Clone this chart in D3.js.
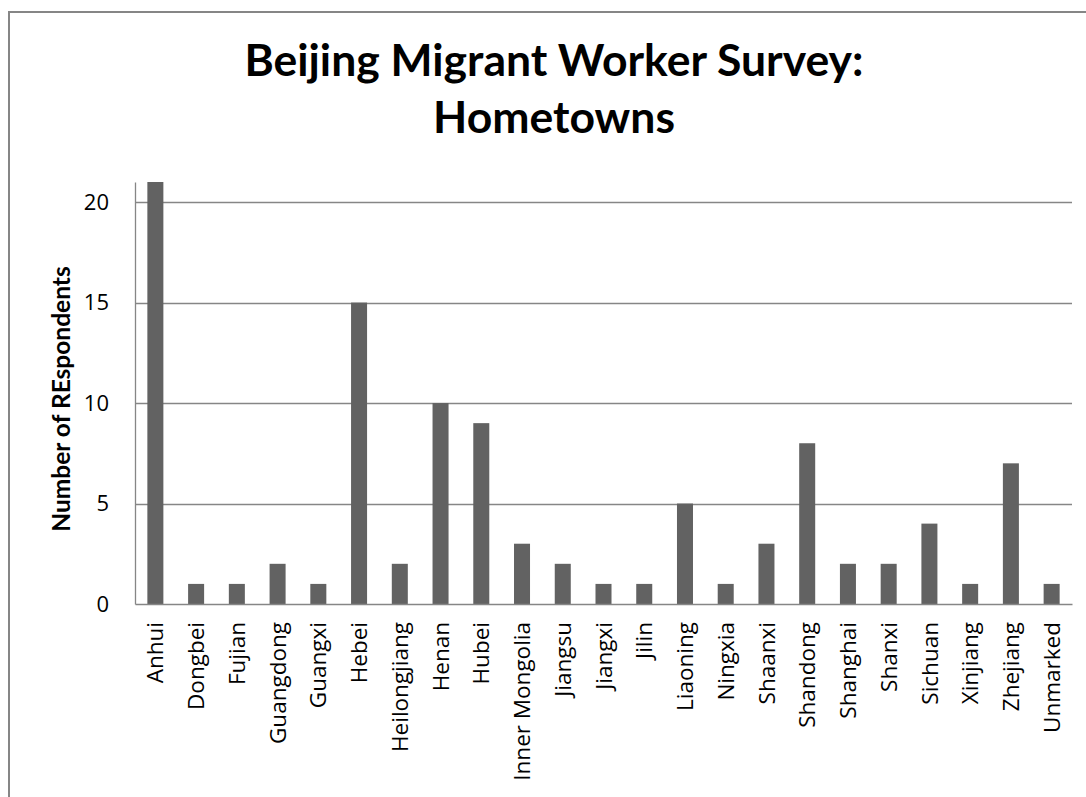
<!DOCTYPE html>
<html>
<head>
<meta charset="utf-8">
<script src="https://cdn.jsdelivr.net/npm/d3@7/dist/d3.min.js"></script>
<style>
  html, body { margin: 0; padding: 0; background: #fff; }
  svg { display: block; }
</style>
</head>
<body>
<svg id="chart" width="1086" height="797"></svg>
<script>
// Hometown provinces of the surveyed workers
const provinces = ["Anhui", "Dongbei", "Fujian", "Guangdong", "Guangxi", "Hebei",
  "Heilongjiang", "Henan", "Hubei", "Inner Mongolia", "Jiangsu", "Jiangxi", "Jilin",
  "Liaoning", "Ningxia", "Shaanxi", "Shandong", "Shanghai", "Shanxi", "Sichuan",
  "Xinjiang", "Zhejiang", "Unmarked"];
// Respondents per province
const respondents = [21, 1, 1, 2, 1, 15, 2, 10, 9, 3, 2, 1, 1, 5, 1, 3, 8, 2, 2, 4, 1, 7, 1];
const yTicks = [0, 5, 10, 15, 20];
const titleLines = ["Beijing Migrant Worker Survey:", "Hometowns"];
const yTitle = "Number of REspondents";

const svg = d3.select("#chart");
const W = 1086, H = 797;
const plot = { left: 135, right: 1072, top: 182, bottom: 604 };
const axisGrey = "#868686";
const barFill = "#626262";
const labelFont = "'Open Sans', 'DejaVu Sans', sans-serif";
const titleFont = "Lato, 'Open Sans', sans-serif";

svg.append("rect").attr("width", W).attr("height", H).attr("fill", "#fff");

// outer chart frame
svg.append("rect")
  .attr("x", 9).attr("y", 12).attr("width", W + 20).attr("height", H + 20)
  .attr("fill", "none").attr("stroke", axisGrey).attr("stroke-width", 2);

const x = d3.scaleBand()
  .domain(provinces)
  .range([plot.left, plot.right])
  .paddingInner(0.607)
  .paddingOuter(0.3035);

const y = d3.scaleLinear().domain([0, 21]).range([plot.bottom, plot.top]);

// horizontal gridlines
svg.append("g")
  .selectAll("line")
  .data(yTicks.filter(d => d > 0))
  .join("line")
  .attr("x1", plot.left).attr("x2", plot.right)
  .attr("y1", d => Math.round(y(d)) + 0.5).attr("y2", d => Math.round(y(d)) + 0.5)
  .attr("stroke", axisGrey).attr("stroke-width", 1.3);

// bars
svg.append("g")
  .selectAll("rect")
  .data(provinces)
  .join("rect")
  .attr("x", d => x(d))
  .attr("width", x.bandwidth())
  .attr("y", (d, i) => y(respondents[i]))
  .attr("height", (d, i) => y(0) - y(respondents[i]))
  .attr("fill", barFill);

// y axis
const yAxis = svg.append("g")
  .attr("transform", `translate(${plot.left},0)`)
  .call(d3.axisLeft(y).tickValues(yTicks).tickSize(0).tickPadding(26));
yAxis.select(".domain").attr("stroke", axisGrey).attr("stroke-width", 1.3);
yAxis.selectAll("text")
  .attr("font-family", labelFont).attr("font-size", 22).attr("fill", "#000");

// x axis
const xAxis = svg.append("g")
  .attr("transform", `translate(0,${plot.bottom})`)
  .call(d3.axisBottom(x).tickSize(0).tickSizeOuter(0));
xAxis.select(".domain").attr("stroke", axisGrey).attr("stroke-width", 1.6);
xAxis.selectAll("text")
  .attr("font-family", labelFont).attr("font-size", 22.5).attr("fill", "#000")
  .attr("text-anchor", "end")
  .attr("transform", "translate(0,18) rotate(-90)")
  .attr("x", 0).attr("y", 0).attr("dy", "0.36em");

// y axis title
svg.append("text")
  .attr("transform", "translate(70,399) rotate(-90)")
  .attr("text-anchor", "middle")
  .attr("font-family", titleFont).attr("font-weight", 700).attr("font-size", 24.5)
  .attr("fill", "#000")
  .text(yTitle);

// chart title
svg.append("g")
  .selectAll("text")
  .data(titleLines)
  .join("text")
  .attr("x", 554)
  .attr("y", (d, i) => 76 + i * 57)
  .attr("text-anchor", "middle")
  .attr("font-family", titleFont).attr("font-weight", 700).attr("font-size", 44.5)
  .attr("fill", "#000")
  .text(d => d);
</script>
</body>
</html>
